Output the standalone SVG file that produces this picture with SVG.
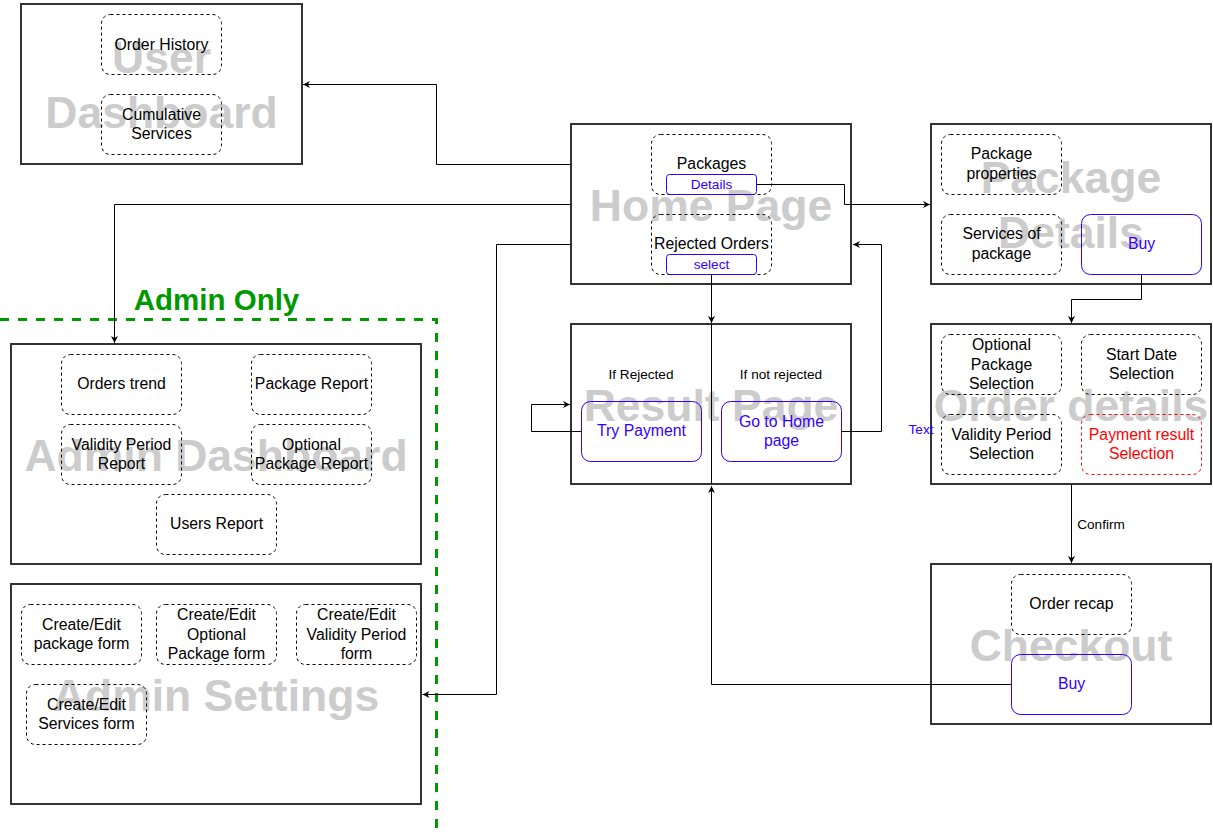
<svg xmlns="http://www.w3.org/2000/svg" width="1213" height="836" viewBox="0 0 1213 836">
<defs>
<marker id="arr" viewBox="0 0 10 10" refX="10" refY="5" markerWidth="8" markerHeight="7" markerUnits="userSpaceOnUse" orient="auto">
<path d="M0,0 L10,5 L0,10 L3,5 Z" fill="#000"/>
</marker>
</defs>
<style>
text{font-family:"Liberation Sans",Helvetica,Arial,sans-serif;text-anchor:middle}
.ct{fill:#fff;stroke:#333;stroke-width:2}
.wm{font-size:44.5px;font-weight:bold;fill:#cccccc}
.ch{fill:none;stroke:#000;stroke-width:1;stroke-dasharray:3 3}
.bl{fill:none;stroke:#3300ff;stroke-width:1}
.rd{fill:none;stroke:#ff0000;stroke-width:1;stroke-dasharray:3 3}
.lb{font-size:15.8px;fill:#000}
.lbb{font-size:15.8px;fill:#3300ff}
.lbr{font-size:15.8px;fill:#ff0000}
.sm{font-size:13.6px;fill:#000}
.smb{font-size:13.6px;fill:#3300ff}
.cn{fill:none;stroke:#000;stroke-width:1}
</style>
<rect width="1213" height="836" fill="#fff"/>

<g id="user-dashboard">
<rect class="ct" x="21" y="4" width="281" height="160"/>
<text class="wm" x="161.5" y="73">User</text>
<text class="wm" x="161.5" y="128">Dashboard</text>
<g id="order-history"><rect class="ch" x="101.5" y="14.5" width="120" height="60" rx="9"/><text class="lb" x="161.5" y="49.5">Order History</text></g>
<g id="cumulative-services"><rect class="ch" x="101.5" y="94.5" width="120" height="60" rx="9"/><text class="lb" x="161.5" y="119.5">Cumulative</text><text class="lb" x="161.5" y="139">Services</text></g>
</g>

<g id="home-page">
<rect class="ct" x="571" y="124" width="280" height="160"/>
<text class="wm" x="711" y="220.5">Home Page</text>
<g id="packages"><rect class="ch" x="651.5" y="134.5" width="120" height="60" rx="9"/><text class="lb" x="711.5" y="169.4">Packages</text></g>
<g id="details-btn"><rect class="bl" x="666.5" y="174.5" width="90" height="20" rx="3"/><text class="smb" x="711.5" y="189">Details</text></g>
<g id="rejected-orders"><rect class="ch" x="651.5" y="214.5" width="120" height="60" rx="9"/><text class="lb" x="711.5" y="249.4">Rejected Orders</text></g>
<g id="select-btn"><rect class="bl" x="666.5" y="254.5" width="90" height="20" rx="3"/><text class="smb" x="711.5" y="269">select</text></g>
</g>

<g id="package-details">
<rect class="ct" x="931" y="124" width="280" height="160"/>
<text class="wm" x="1071" y="192.5">Package</text>
<text class="wm" x="1071" y="247.5">Details</text>
<g id="package-properties"><rect class="ch" x="941.5" y="134.5" width="120" height="60" rx="9"/><text class="lb" x="1001.5" y="159">Package</text><text class="lb" x="1001.5" y="178.5">properties</text></g>
<g id="services-of-package"><rect class="ch" x="941.5" y="214.5" width="120" height="60" rx="9"/><text class="lb" x="1001.5" y="239">Services of</text><text class="lb" x="1001.5" y="258.5">package</text></g>
<g id="buy-package"><rect class="bl" x="1081.5" y="214.5" width="120" height="60" rx="9"/><text class="lbb" x="1141.5" y="249.4">Buy</text></g>
</g>

<g id="result-page">
<rect class="ct" x="571" y="324" width="280" height="160"/>
<text class="wm" x="711" y="420.5">Result Page</text>
<text class="sm" x="641" y="379">If Rejected</text>
<text class="sm" x="781" y="379">If not rejected</text>
<g id="try-payment"><rect class="bl" x="581.5" y="401.5" width="120" height="60" rx="9"/><text class="lbb" x="641.5" y="436.4">Try Payment</text></g>
<g id="go-home"><rect class="bl" x="721.5" y="401.5" width="120" height="60" rx="9"/><text class="lbb" x="781.5" y="426.5">Go to Home</text><text class="lbb" x="781.5" y="446">page</text></g>
</g>

<g id="order-details">
<rect class="ct" x="931" y="324" width="280" height="160"/>
<text class="wm" x="1071" y="420.5">Order details</text>
<g id="optional-package-selection"><rect class="ch" x="941.5" y="334.5" width="120" height="60" rx="9"/><text class="lb" x="1001.5" y="350">Optional</text><text class="lb" x="1001.5" y="369.5">Package</text><text class="lb" x="1001.5" y="389">Selection</text></g>
<g id="start-date-selection"><rect class="ch" x="1081.5" y="334.5" width="120" height="60" rx="9"/><text class="lb" x="1141.5" y="359.5">Start Date</text><text class="lb" x="1141.5" y="379">Selection</text></g>
<g id="validity-period-selection"><rect class="ch" x="941.5" y="414.5" width="120" height="60" rx="9"/><text class="lb" x="1001.5" y="439.5">Validity Period</text><text class="lb" x="1001.5" y="459">Selection</text></g>
<g id="payment-result-selection"><rect class="rd" x="1081.5" y="414.5" width="120" height="60" rx="9"/><text class="lbr" x="1141.5" y="439.5">Payment result</text><text class="lbr" x="1141.5" y="459">Selection</text></g>
</g>
<g id="text-label"><text class="smb" x="921" y="433.5">Text</text></g>

<g id="checkout">
<rect class="ct" x="931" y="564" width="280" height="160"/>
<text class="wm" x="1071" y="660.5">Checkout</text>
<g id="order-recap"><rect class="ch" x="1011.5" y="574.5" width="120" height="60" rx="9"/><text class="lb" x="1071.5" y="609.4">Order recap</text></g>
<g id="buy-checkout"><rect class="bl" x="1011.5" y="654.5" width="120" height="60" rx="9"/><text class="lbb" x="1071.5" y="689.4">Buy</text></g>
</g>

<g id="admin-dashboard">
<rect class="ct" x="11" y="344" width="410" height="220"/>
<text class="wm" x="216" y="470.5">Admin Dashboard</text>
<g id="orders-trend"><rect class="ch" x="61.5" y="354.5" width="120" height="60" rx="9"/><text class="lb" x="121.5" y="389.4">Orders trend</text></g>
<g id="package-report"><rect class="ch" x="251.5" y="354.5" width="120" height="60" rx="9"/><text class="lb" x="311.5" y="389.4">Package Report</text></g>
<g id="validity-period-report"><rect class="ch" x="61.5" y="424.5" width="120" height="60" rx="9"/><text class="lb" x="121.5" y="449.5">Validity Period</text><text class="lb" x="121.5" y="469">Report</text></g>
<g id="optional-package-report"><rect class="ch" x="251.5" y="424.5" width="120" height="60" rx="9"/><text class="lb" x="311.5" y="449.5">Optional</text><text class="lb" x="311.5" y="469">Package Report</text></g>
<g id="users-report"><rect class="ch" x="156.5" y="494.5" width="120" height="60" rx="9"/><text class="lb" x="216.5" y="529.4">Users Report</text></g>
</g>

<g id="admin-settings">
<rect class="ct" x="11" y="584" width="410" height="220"/>
<text class="wm" x="216" y="710.5">Admin Settings</text>
<g id="create-package-form"><rect class="ch" x="21.5" y="604.5" width="120" height="60" rx="9"/><text class="lb" x="81.5" y="629.5">Create/Edit</text><text class="lb" x="81.5" y="649">package form</text></g>
<g id="create-optional-package-form"><rect class="ch" x="156.5" y="604.5" width="120" height="60" rx="9"/><text class="lb" x="216.5" y="620">Create/Edit</text><text class="lb" x="216.5" y="639.5">Optional</text><text class="lb" x="216.5" y="659">Package form</text></g>
<g id="create-validity-period-form"><rect class="ch" x="296.5" y="604.5" width="120" height="60" rx="9"/><text class="lb" x="356.5" y="620">Create/Edit</text><text class="lb" x="356.5" y="639.5">Validity Period</text><text class="lb" x="356.5" y="659">form</text></g>
<g id="create-services-form"><rect class="ch" x="26.5" y="684.5" width="120" height="60" rx="9"/><text class="lb" x="86.5" y="709.5">Create/Edit</text><text class="lb" x="86.5" y="729">Services form</text></g>
</g>

<g id="admin-only">
<path d="M0 319.5 H436.5 V836" fill="none" stroke="#009900" stroke-width="3" stroke-dasharray="9 9"/>
<text x="216.5" y="309.5" style="font-size:29.5px;font-weight:bold;fill:#009900">Admin Only</text>
</g>

<g id="connectors">
<path class="cn" d="M571 164.5 H436.5 V84.5 H303" marker-end="url(#arr)"/>
<path class="cn" d="M571 204.5 H114.5 V343" marker-end="url(#arr)"/>
<path class="cn" d="M571 244.5 H496.5 V694.5 H422.5" marker-end="url(#arr)"/>
<path class="cn" d="M756.5 184.5 H844.5 V204.5 H930" marker-end="url(#arr)"/>
<path class="cn" d="M711.5 274.5 V323" marker-end="url(#arr)"/>
<path class="cn" d="M711.5 324 V484"/>
<path class="cn" d="M1011.5 684.5 H711.5 V486" marker-end="url(#arr)"/>
<path class="cn" d="M581.5 431.5 H531.5 V404.5 H570" marker-end="url(#arr)"/>
<path class="cn" d="M841.5 431.5 H881.5 V244.5 H853" marker-end="url(#arr)"/>
<path class="cn" d="M1141.5 274.5 V299.5 H1071.5 V323" marker-end="url(#arr)"/>
<path class="cn" d="M1071.5 484.5 V563" marker-end="url(#arr)"/>
<text class="sm" x="1101" y="529">Confirm</text>
</g>
</svg>
